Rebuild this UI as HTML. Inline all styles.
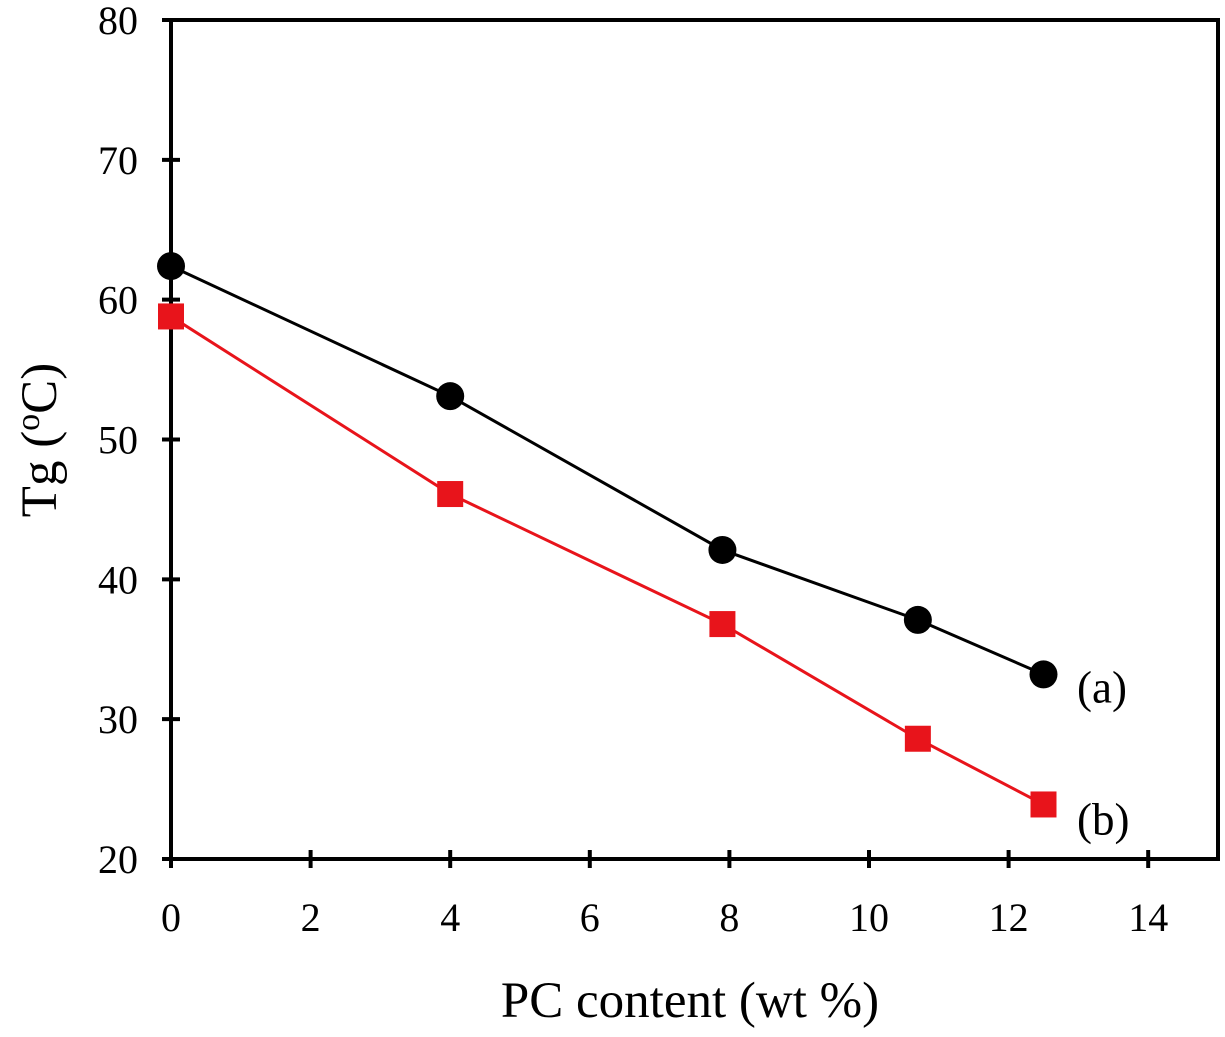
<!DOCTYPE html>
<html><head><meta charset="utf-8"><style>
body{margin:0;background:#fff}
text{font-family:"Liberation Serif",serif;fill:#000}
</style></head><body>
<svg id="chart" width="1225" height="1032" xmlns="http://www.w3.org/2000/svg">
<g id="g"></g>
</svg>
<script>
const xTicks=[0,2,4,6,8,10,12,14];
const yTicks=[20,30,40,50,60,70,80];
const xA=[0,4,7.9,10.7,12.5];
const yA=[62.4,53.1,42.1,37.1,33.2];
const xB=[0,4,7.9,10.7,12.5];
const yB=[58.8,46.1,36.8,28.6,23.9];
const L=171,R=1218,T=20,B=859;
const sx=v=>L+(v-0)/15*(R-L);
const sy=v=>B-(v-20)/60*(B-T);
const NS="http://www.w3.org/2000/svg";
const g=document.getElementById('g');
function mk(t,a){const e=document.createElementNS(NS,t);for(const k in a)e.setAttribute(k,a[k]);g.appendChild(e);return e;}
let e=mk('path',{d:`M${L},${T}H${R}V${B}H${L}Z`,fill:'none',stroke:'#000','stroke-width':4});


xTicks.forEach(v=>{
 let t=mk('line',{x1:sx(v),x2:sx(v),y1:B-9,y2:B+9,stroke:'#000','stroke-width':4});
 
 
 let l=mk('text',{x:sx(v),y:B+72,'text-anchor':'middle','font-size':40});l.textContent=v;
 
 
});
yTicks.forEach(v=>{
 let t=mk('line',{x1:L-9,x2:L+9,y1:sy(v),y2:sy(v),stroke:'#000','stroke-width':4});
 
 
 let l=mk('text',{x:138,y:sy(v)+14,'text-anchor':'end','font-size':40});l.textContent=v;
 
 
});
function series(xs,ys,color,shape,name){
 let p=mk('polyline',{points:xs.map((x,i)=>sx(x)+','+sy(ys[i])).join(' '),fill:'none',stroke:color,'stroke-width':3});
 
 
 xs.forEach((x,i)=>{
  let m=shape==='circle'?mk('circle',{cx:sx(x),cy:sy(ys[i]),r:14,fill:color}):mk('rect',{x:sx(x)-13,y:sy(ys[i])-13,width:26,height:26,fill:color});
  
  
 });
}
series(xA,yA,'#000','circle','series-a');
series(xB,yB,'#e8141b','square','series-b');
let la=mk('text',{x:1077,y:sy(yA[4])+28,'font-size':45});la.textContent='(a)';


let lb=mk('text',{x:1077,y:sy(yB[4])+30,'font-size':45});lb.textContent='(b)';


let xt=mk('text',{x:690,y:1017,'text-anchor':'middle','font-size':51});xt.textContent='PC content (wt %)';


let yt=mk('text',{transform:'translate(56,440) rotate(-90)','text-anchor':'middle','font-size':51});
yt.innerHTML='Tg (<tspan font-size="34" dy="-17">o</tspan><tspan dy="17">C)</tspan>';


</script>
</body></html>
